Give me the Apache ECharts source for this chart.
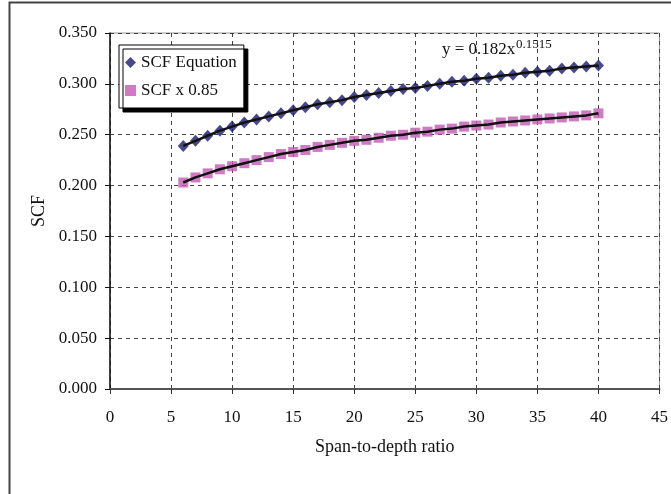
<!DOCTYPE html>
<html>
<head>
    <meta charset="utf-8">
    <script src="https://cdn.jsdelivr.net/npm/echarts@6/dist/echarts.min.js"></script>
</head>
<body style="margin:0;background:#fff;">
    <div id="scf" style="width: 671px;height:494px;"></div>
    <script type="text/javascript">
        // span-to-depth ratio
        var ratio = [6, 7, 8, 9, 10, 11, 12, 13, 14, 15, 16, 17, 18, 19, 20, 21, 22, 23,
                     24, 25, 26, 27, 28, 29, 30, 31, 32, 33, 34, 35, 36, 37, 38, 39, 40];
        // SCF equation points
        var scfEq = [0.239, 0.244, 0.249, 0.254, 0.258, 0.262, 0.265, 0.268, 0.271, 0.274,
                     0.277, 0.280, 0.282, 0.284, 0.287, 0.289, 0.291, 0.293, 0.295, 0.296,
                     0.298, 0.300, 0.302, 0.303, 0.305, 0.306, 0.308, 0.309, 0.311, 0.312,
                     0.313, 0.315, 0.316, 0.317, 0.318];
        // SCF x 0.85 points
        var scf85 = [0.203, 0.208, 0.212, 0.216, 0.219, 0.222, 0.225, 0.228, 0.231, 0.233,
                     0.235, 0.238, 0.240, 0.242, 0.244, 0.245, 0.247, 0.249, 0.250, 0.252,
                     0.253, 0.255, 0.256, 0.258, 0.259, 0.260, 0.262, 0.263, 0.264, 0.265,
                     0.266, 0.267, 0.268, 0.269, 0.271];
        var xTicks = [0, 5, 10, 15, 20, 25, 30, 35, 40, 45];
        var yTicks = [0, 0.05, 0.1, 0.15, 0.2, 0.25, 0.3, 0.35];

        function pairs(ys) {
            var out = [];
            for (var i = 0; i < ratio.length; i++) out.push([ratio[i], ys[i]]);
            return out;
        }

        var font = 'Liberation Serif';
        var chart = echarts.init(document.getElementById('scf'));
        var option = {
            backgroundColor: '#fff',
            animation: false,
            textStyle: { fontFamily: font },
            grid: { left: 110, top: 33, right: 6, bottom: 105, show: true, borderColor: '#999', borderWidth: 1 },
            legend: {
                data: ['SCF Equation', 'SCF x 0.85'],
                orient: 'vertical',
                left: 119, top: 45,
                padding: [9, 7, 9, 6],
                itemGap: 11,
                itemWidth: 11, itemHeight: 11,
                backgroundColor: '#fff',
                borderColor: '#000', borderWidth: 1,
                shadowColor: '#000', shadowBlur: 0, shadowOffsetX: 4, shadowOffsetY: 4,
                textStyle: { fontFamily: font, fontSize: 17, color: '#111' }
            },
            xAxis: {
                type: 'value',
                min: xTicks[0], max: xTicks[xTicks.length - 1], interval: 5,
                name: 'Span-to-depth ratio',
                nameLocation: 'middle', nameGap: 49,
                nameTextStyle: { fontFamily: font, fontSize: 18, color: '#111' },
                axisLine: { lineStyle: { color: '#555', width: 2 } },
                axisTick: { show: true, length: 5, lineStyle: { color: '#333' } },
                axisLabel: { margin: 20, fontFamily: font, fontSize: 17, color: '#111' },
                splitLine: { show: true, lineStyle: { type: [4, 4], color: '#444' } }
            },
            yAxis: {
                type: 'value',
                min: yTicks[0], max: yTicks[yTicks.length - 1], interval: 0.05,
                name: 'SCF',
                nameLocation: 'middle', nameGap: 62,
                nameTextStyle: { fontFamily: font, fontSize: 18, color: '#111' },
                axisLine: { show: true, lineStyle: { color: '#111', width: 1.5 } },
                axisTick: { show: true, length: 5, lineStyle: { color: '#111' } },
                axisLabel: {
                    margin: 13, fontFamily: font, fontSize: 17, color: '#111',
                    formatter: function (v) { return v.toFixed(3); }
                },
                splitLine: { show: true, lineStyle: { type: [4, 4], color: '#444' } }
            },
            graphic: [
                // outer frame
                { type: 'rect', shape: { x: 9.5, y: 2.5, width: 700, height: 600 },
                  style: { fill: 'none', stroke: '#444', lineWidth: 2 }, silent: true },
                { type: 'text', left: 442, top: 41,
                  style: { text: 'y = 0.182x', font: '17px ' + font, fill: '#111' } },
                { type: 'text', left: 516, top: 38,
                  style: { text: '0.1515', font: '13px ' + font, fill: '#111' } }
            ],
            series: [
                {
                    name: 'SCF Equation', type: 'scatter',
                    symbol: 'diamond', symbolSize: [11, 12],
                    itemStyle: { color: '#1a1a70' },
                    data: pairs(scfEq), z: 2
                },
                {
                    name: 'SCF x 0.85', type: 'scatter',
                    symbol: 'rect', symbolSize: 10,
                    itemStyle: { color: '#c459b5' },
                    data: pairs(scf85), z: 2
                },
                // power trend lines
                {
                    name: 'trend1', type: 'line', showSymbol: false, symbol: 'none',
                    lineStyle: { color: '#111', width: 2.5 },
                    data: pairs(scfEq), z: 3
                },
                {
                    name: 'trend2', type: 'line', showSymbol: false, symbol: 'none',
                    lineStyle: { color: '#111', width: 2.5 },
                    data: pairs(scf85), z: 3
                }
            ]
        };
        chart.setOption(option);
    </script>
</body>
</html>
